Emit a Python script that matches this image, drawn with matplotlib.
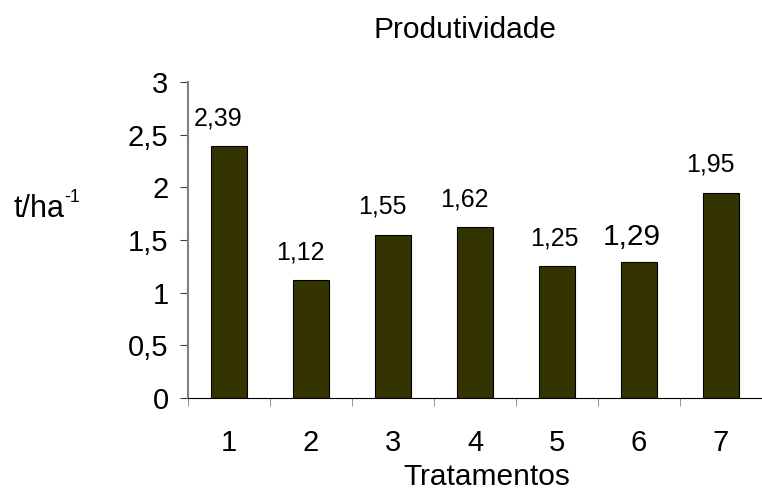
import numpy as np
import matplotlib.pyplot as plt

plt.rcParams['font.family'] = ['Liberation Sans', 'DejaVu Sans']

tratamentos = ['1', '2', '3', '4', '5', '6', '7']
produtividade = [2.39, 1.12, 1.55, 1.62, 1.25, 1.29, 1.95]
rotulos = ['2,39', '1,12', '1,55', '1,62', '1,25', '1,29', '1,95']
y_ticks = [0, 0.5, 1, 1.5, 2, 2.5, 3]
y_tick_labels = ['0', '0,5', '1', '1,5', '2', '2,5', '3']

fig = plt.figure(figsize=(7.62, 4.91), dpi=100)
ax = fig.add_axes([188 / 762, 93 / 491, 574 / 762, 316 / 491])

x = np.arange(len(tratamentos))
ax.bar(x, produtividade, width=0.43, color='#333300', edgecolor='black', linewidth=0.8)

# value labels sit a bit left of the bars; the one over bar 6 is larger
dx = [-8, -8, -8, -8, -2, -5, -8]
for i, (v, lab) in enumerate(zip(produtividade, rotulos)):
    big = i == 5
    ax.annotate(lab, (x[i], v), xytext=(dx[i], 12 if big else 15),
                textcoords='offset points', ha='center', va='baseline',
                fontsize=21.5 if big else 18)

ax.set_xlim(-0.5, 6.39)
ax.set_ylim(0, 3)
ax.set_yticks(y_ticks)
ax.set_yticklabels(y_tick_labels, fontsize=21)
ax.set_xticks(x)
ax.set_xticklabels(tratamentos, fontsize=21)
ax.set_xticks(np.arange(-0.5, 7, 1), minor=True)
ax.tick_params(axis='x', which='major', length=0, pad=22)
ax.tick_params(axis='x', which='minor', length=6, direction='out', color='#808080')
ax.tick_params(axis='y', length=6, direction='out', pad=8, color='#404040')

for s in ['top', 'right']:
    ax.spines[s].set_visible(False)
ax.spines['left'].set_color('#808080')
ax.spines['left'].set_linewidth(1.5)
ax.spines['bottom'].set_color('black')

fig.text(465 / 762, 1 - 38 / 491, 'Produtividade', ha='center', va='baseline', fontsize=21.5)
fig.text(487 / 762, 1 - 485 / 491, 'Tratamentos', ha='center', va='baseline', fontsize=21.5)
fig.text(13 / 762, 1 - 217 / 491, 't/ha', ha='left', va='baseline', fontsize=22)
fig.text(64 / 762, 1 - 202 / 491, '-1', ha='left', va='baseline', fontsize=13)

fig.savefig('out.png', dpi=100)
